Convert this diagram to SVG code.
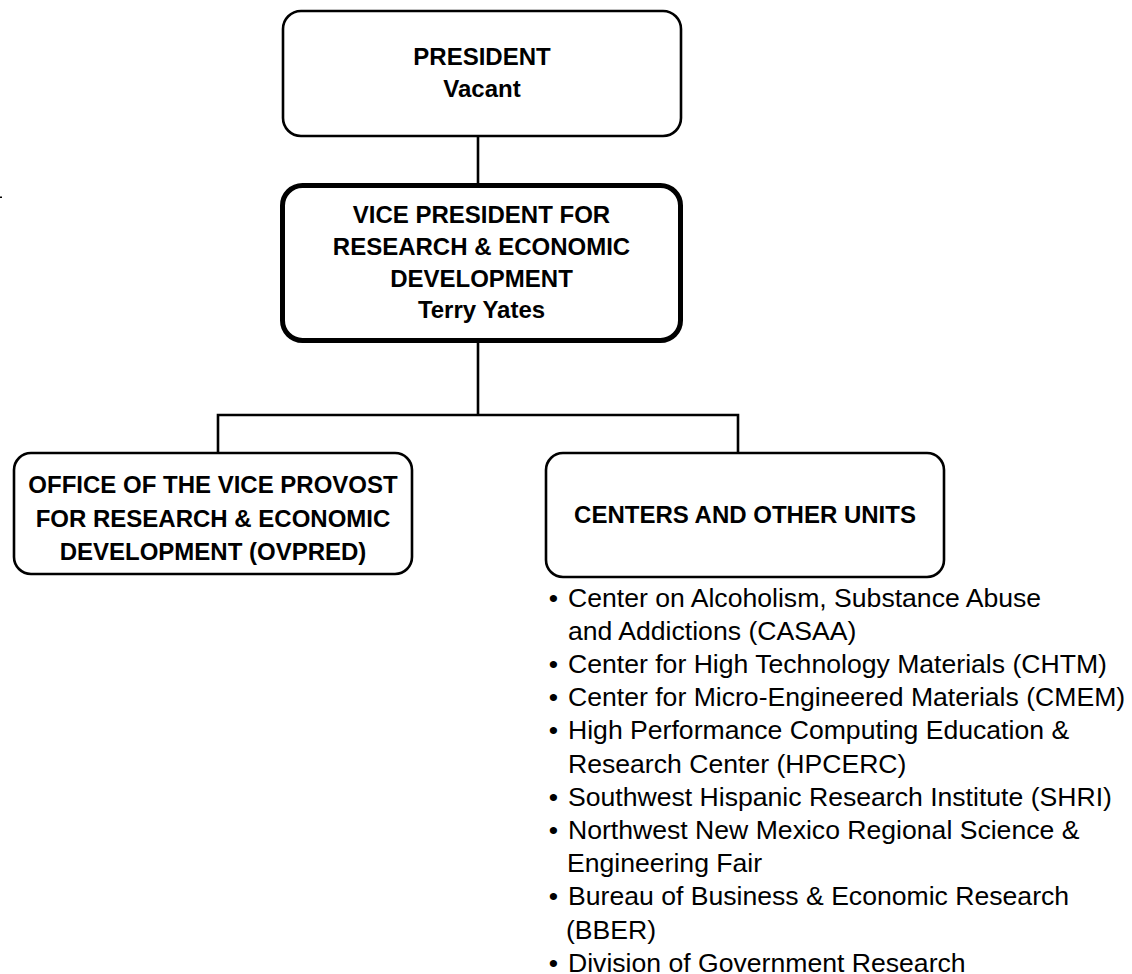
<svg xmlns="http://www.w3.org/2000/svg" width="1132" height="974" viewBox="0 0 1132 974">
<style>
.box{fill:#fff;stroke:#000;stroke-width:2.6}
.thick{fill:#fff;stroke:#000;stroke-width:5}
.t{font-family:"Liberation Sans",Arial,sans-serif;font-weight:bold;font-size:24px;fill:#000;text-anchor:middle}
.l{font-family:"Liberation Sans",Arial,sans-serif;font-size:26.6px;fill:#000}
.b{font-family:"Liberation Sans",Arial,sans-serif;font-size:26.6px;fill:#000;text-anchor:middle}
.c{fill:none;stroke:#000;stroke-width:2.6}
</style>
<rect x="0" y="196.5" width="2" height="1.5" fill="#000"/>
<g id="connectors">
<line class="c" x1="478" y1="137" x2="478" y2="184"/>
<line class="c" x1="478" y1="342" x2="478" y2="416" stroke-width="3.2"/>
<polyline class="c" points="218,452 218,415 738,415 738,452"/>
</g>
<g id="president">
<rect class="box" x="283" y="11" width="398" height="125" rx="18"/>
<text class="t" x="482" y="65">PRESIDENT</text>
<text class="t" x="482" y="97">Vacant</text>
</g>
<g id="vp">
<rect class="thick" x="282.5" y="185.5" width="398" height="155" rx="20"/>
<text class="t" x="481.5" y="223">VICE PRESIDENT FOR</text>
<text class="t" x="481.5" y="255">RESEARCH &amp; ECONOMIC</text>
<text class="t" x="481.5" y="287">DEVELOPMENT</text>
<text class="t" x="481.5" y="318">Terry Yates</text>
</g>
<g id="ovpred">
<rect class="box" x="14" y="453" width="398" height="121" rx="17"/>
<text class="t" x="213" y="493">OFFICE OF THE VICE PROVOST</text>
<text class="t" x="213" y="526.5">FOR RESEARCH &amp; ECONOMIC</text>
<text class="t" x="213" y="560">DEVELOPMENT (OVPRED)</text>
</g>
<g id="centers">
<rect class="box" x="546" y="453" width="398" height="124" rx="17"/>
<text class="t" x="745" y="523">CENTERS AND OTHER UNITS</text>
</g>
<g id="centers-list">
<text class="b" x="553.5" y="606.5">•</text>
<text class="l" x="568" y="606.5">Center on Alcoholism, Substance Abuse</text>
<text class="l" x="568" y="639.7">and Addictions (CASAA)</text>
<text class="b" x="553.5" y="672.9">•</text>
<text class="l" x="568" y="672.9">Center for High Technology Materials (CHTM)</text>
<text class="b" x="553.5" y="706.1">•</text>
<text class="l" x="568" y="706.1">Center for Micro-Engineered Materials (CMEM)</text>
<text class="b" x="553.5" y="739.3">•</text>
<text class="l" x="568" y="739.3">High Performance Computing Education &amp;</text>
<text class="l" x="568" y="772.5">Research Center (HPCERC)</text>
<text class="b" x="553.5" y="805.7">•</text>
<text class="l" x="568" y="805.7">Southwest Hispanic Research Institute (SHRI)</text>
<text class="b" x="553.5" y="838.9">•</text>
<text class="l" x="568" y="838.9">Northwest New Mexico Regional Science &amp;</text>
<text class="l" x="567" y="872.1">Engineering Fair</text>
<text class="b" x="553.5" y="905.3">•</text>
<text class="l" x="568" y="905.3">Bureau of Business &amp; Economic Research</text>
<text class="l" x="566" y="938.5">(BBER)</text>
<text class="b" x="553.5" y="971.7">•</text>
<text class="l" x="568" y="971.7">Division of Government Research</text>
</g>
</svg>
